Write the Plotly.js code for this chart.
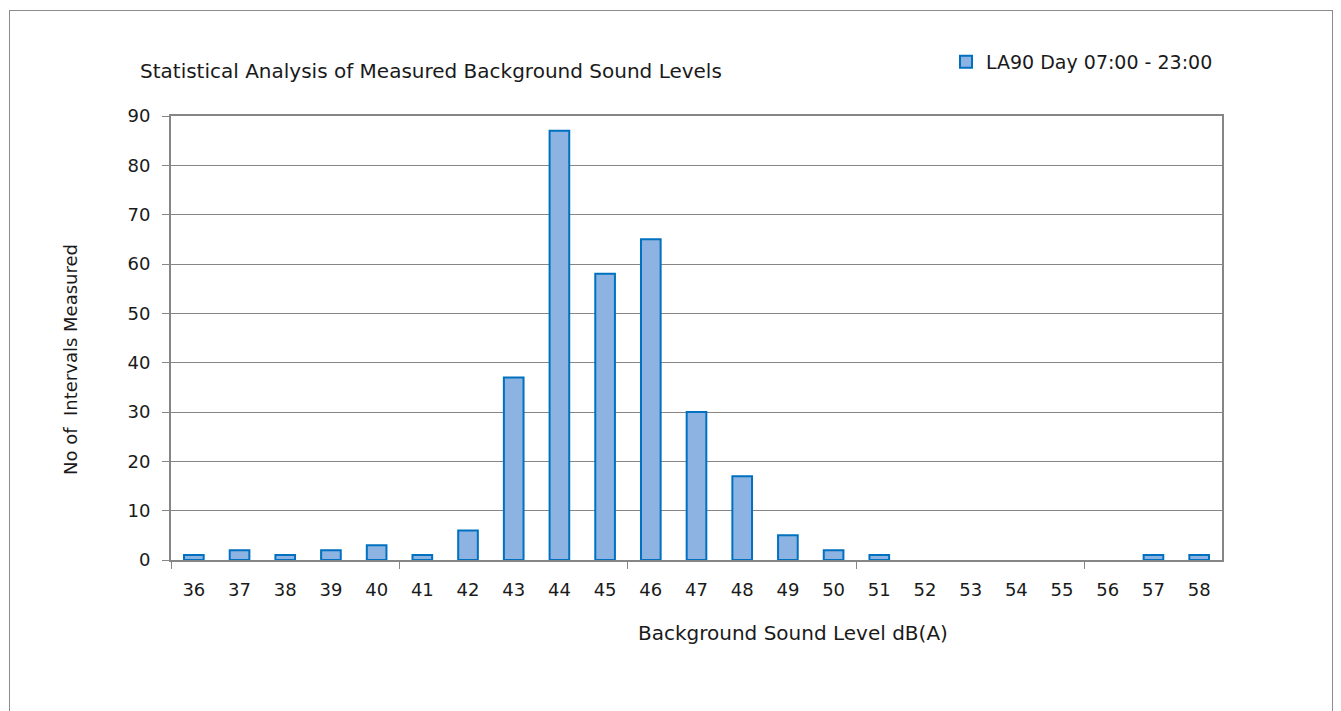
<!DOCTYPE html>
<html>
<head>
<meta charset="utf-8">
<script src="https://cdn.plot.ly/plotly-3.0.1.min.js"></script>
<style>
html,body{margin:0;padding:0;background:#fff;overflow:hidden;}
#chart{width:1341px;height:711px;position:absolute;left:0;top:0;}
#frame{position:absolute;left:9px;top:10px;width:1322px;height:760px;border:1px solid #8c8c8c;pointer-events:none;}
</style>
</head>
<body>
<div id="chart"></div>
<div id="frame"></div>
<script>
const levels = [36,37,38,39,40,41,42,43,44,45,46,47,48,49,50,51,52,53,54,55,56,57,58];
const counts = [1,2,1,2,3,1,6,37,87,58,65,30,17,5,2,1,0,0,0,0,0,1,1];
const seriesName = 'LA90 Day 07:00 - 23:00';
const chartTitle = 'Statistical Analysis of Measured Background Sound Levels';
const xTitle = 'Background Sound Level dB(A)';
const yTitle = 'No of  Intervals Measured';
const groupTicks = [35.5,40.5,45.5,50.5,55.5];

const FONT = 'DejaVu Sans, sans-serif';
const AX = '#868686';
const TXT = '#1a1a1a';

const trace = {
  type:'bar', x:levels, y:counts, name:seriesName,
  marker:{color:'#8db3e2', line:{color:'#0070c0', width:counts.map(v => v > 0 ? 2 : 0)}},
  showlegend:true
};

const layout = {
  width:1341, height:711,
  margin:{l:171, r:119, t:116, b:151},
  paper_bgcolor:'#fff', plot_bgcolor:'#fff',
  font:{family:FONT, size:18, color:TXT},
  bargap:0.57,
  title:{text:chartTitle, xref:'container', yref:'container', x:140/1341, xanchor:'left', y:1-71/711, yanchor:'middle', font:{family:FONT, size:20, color:TXT}},
  xaxis:{
    range:[35.5,58.5], tickmode:'array', tickvals:levels, ticktext:levels.map(String),
    ticks:'', showgrid:false, zeroline:false, showline:true, linecolor:AX, linewidth:2, mirror:true,
    ticklabelstandoff:12, tickfont:{family:FONT, size:18, color:TXT},
    minor:{tickmode:'array', tickvals:groupTicks, ticks:'outside', ticklen:7, tickcolor:AX, tickwidth:1, showgrid:false},
    fixedrange:true
  },
  yaxis:{
    range:[0,90], dtick:10, tick0:0, ticks:'outside', ticklen:7, tickcolor:AX, tickwidth:1,
    showgrid:true, gridcolor:AX, gridwidth:1, zeroline:false, ticklabelstandoff:8,
    tickfont:{family:FONT, size:18, color:TXT},
    showline:true, linecolor:AX, linewidth:2, mirror:true, fixedrange:true
  },
  legend:{x:(946-171)/1051, y:(560-62)/444, yanchor:'middle', xanchor:'left', bgcolor:'rgba(0,0,0,0)', font:{family:FONT, size:19, color:TXT}, itemwidth:30, tracegroupgap:0},
  annotations:[
    {text:xTitle, xref:'paper', yref:'paper', x:(793-171)/1051, y:-(633-560)/444, xanchor:'center', yanchor:'middle', showarrow:false, font:{family:FONT, size:20, color:TXT}},
    {text:yTitle, xref:'paper', yref:'paper', x:(70-171)/1051, y:(560-360)/444, xanchor:'center', yanchor:'middle', textangle:-90, showarrow:false, font:{family:FONT, size:18, color:TXT}}
  ]
};

Plotly.newPlot('chart', [trace], layout, {displayModeBar:false, staticPlot:true});
</script>
</body>
</html>
